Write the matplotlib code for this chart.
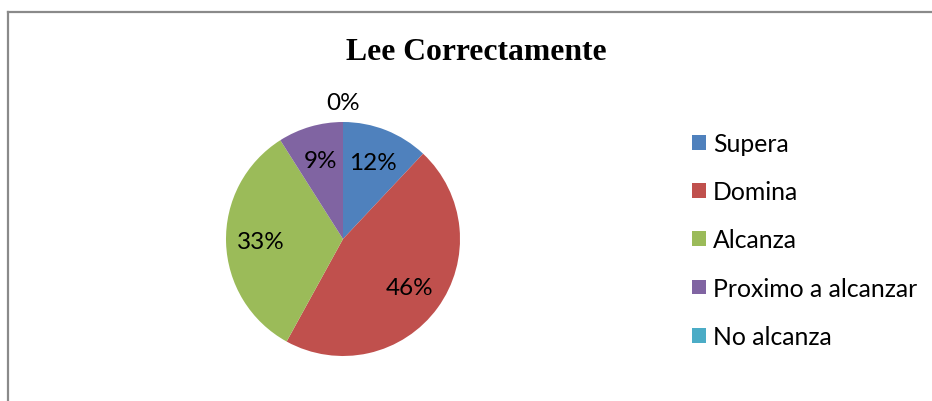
import matplotlib
matplotlib.use("Agg")
import matplotlib.pyplot as plt
from matplotlib.lines import Line2D

# data
categories = ["Supera", "Domina", "Alcanza", "Proximo a alcanzar", "No alcanza"]
values = [12, 46, 33, 9, 0]
colors = ["#4F81BD", "#C0504D", "#9BBB59", "#8064A2", "#4BACC6"]
title = "Lee Correctamente"

W, H = 932, 402
fig = plt.figure(figsize=(W / 100, H / 100), dpi=100)

# chart border (left and top visible)
border_kw = dict(color="#8a8a8a", lw=1.6, transform=fig.transFigure)
fig.add_artist(Line2D([7.5 / W, 7.5 / W], [0, 1 - 12.5 / H], **border_kw))
fig.add_artist(Line2D([7.5 / W, 1], [1 - 12.5 / H, 1 - 12.5 / H], **border_kw))

# pie axes: center (343, 240), radius 117 px
cx, cy, r = 343, 240, 117
ax = fig.add_axes([(cx - r) / W, (H - cy - r) / H, 2 * r / W, 2 * r / H])
wedges, texts, autotexts = ax.pie(
    values, colors=colors, startangle=90, counterclock=False,
    autopct=lambda p: f"{p:.0f}%", pctdistance=0.7, radius=1,
    textprops=dict(fontfamily="Lato", fontsize=17.5, color="black"),
)
ax.set_xlim(-1, 1)
ax.set_ylim(-1, 1)
ax.set_aspect("equal")

# zero-value label sits outside above the pie
for t, v in zip(autotexts, values):
    if v == 0:
        t.set_position((0, 1.17))

fig.text(476 / W, 1 - 52 / H, title, ha="center", va="center",
         fontfamily="Liberation Serif", fontweight="bold", fontsize=22.8)

fig.legend(wedges, categories, loc="center left",
           bbox_to_anchor=(692 / W, 1 - 241 / H), frameon=False,
           prop=dict(family="Lato", size=17.8),
           handlelength=0.55, handleheight=0.55, handletextpad=0.3,
           labelspacing=1.02, borderpad=0, borderaxespad=0)

fig.savefig("out.png", dpi=100)
